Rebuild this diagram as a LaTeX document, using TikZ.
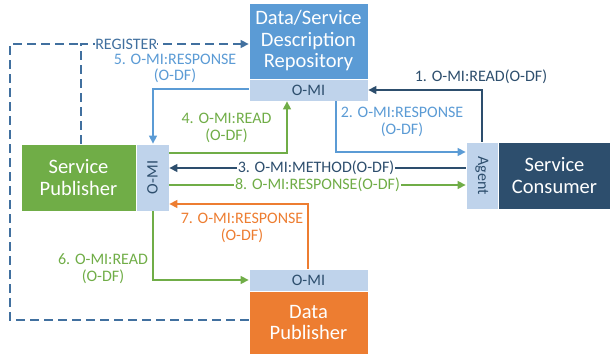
\documentclass[tikz,border=0pt]{standalone}
\usepackage{fontspec}
\setmainfont{Carlito}
\usetikzlibrary{arrows.meta}
\definecolor{repoblue}{HTML}{5B9BD5}
\definecolor{stripblue}{HTML}{BFD3EB}
\definecolor{pubgreen}{HTML}{70AD47}
\definecolor{consdark}{HTML}{2D4E6D}
\definecolor{dporange}{HTML}{ED7D31}
\definecolor{dashblue}{HTML}{41709F}
\tikzset{
  box/.style={draw=white, line width=0.8pt, text=white, align=center, inner sep=0pt,
    font=\fontsize{20.5}{21.5}\selectfont},
  strip/.style={draw=white, line width=0.8pt, fill=stripblue, text=consdark, inner sep=0pt,
    font=\fontsize{16}{17}\selectfont},
  conn/.style={line width=1.4pt, -{Triangle[length=8pt,width=8pt]}},
  dkarrow/.style={conn, draw=consdark},
  lbarrow/.style={conn, draw=repoblue},
  grarrow/.style={conn, draw=pubgreen},
  orarrow/.style={conn, draw=dporange},
  lbl/.style={align=center, inner sep=1pt, font=\fontsize{16}{16.5}\selectfont},
  dashline/.style={draw=dashblue, line width=1.4pt, dash pattern=on 9pt off 5pt},
}
\begin{document}
\begin{tikzpicture}[x=1pt,y=-1pt]
\useasboundingbox (0,0) rectangle (610,355);
% boxes
\node[box, fill=repoblue, minimum width=119pt, minimum height=76pt] (repo) at (308.5,41) {Data/Service\\Description\\Repository};
\node[strip, minimum width=119pt, minimum height=22pt] (repoMI) at (308.5,90) {O-MI};
\node[box, fill=pubgreen, minimum width=115pt, minimum height=67pt] (pub) at (78.5,177.5) {Service\\Publisher};
\node[strip, minimum width=33pt, minimum height=67pt] (pubMI) at (152.5,177.5) {\rotatebox{90}{O-MI}};
\node[strip, minimum width=32pt, minimum height=67pt] (agent) at (482,175.5) {\rotatebox{-90}{Agent}};
\node[box, fill=consdark, minimum width=113pt, minimum height=67pt] (cons) at (554.5,175.5) {Service\\Consumer};
\node[strip, minimum width=119pt, minimum height=22pt] (dpMI) at (308.5,280) {O-MI};
\node[box, fill=dporange, minimum width=119pt, minimum height=63pt] (dp) at (308.5,322.5) {Data\\Publisher};
% register dashed
\coordinate (rj) at (81,44);
\draw[dashline, -{Triangle[length=8pt,width=8pt]}] (pub.north -| rj) -- (rj) -- node[pos=0.27, lbl, fill=white, text=dashblue, inner sep=0pt] {REGISTER} (repo.west |- rj);
\draw[dashline] (dp.west |- 0,320) -| (10,44) -- (rj);
% 1
\draw[dkarrow] (agent.north) |- (repoMI.east);
\node[lbl, text=consdark] (l1) at (481,76.5) {1. O-MI:READ(O-DF)};
% 2
\draw[lbarrow] (repoMI.south -| 336,0) |- (agent.west |- 0,152);
\node[lbl, text=repoblue] (l2) at (402,122) {2. O-MI:RESPONSE\\(O-DF)};
% 3
\draw[dkarrow] (agent.west |- 0,168) -- node[lbl, fill=white, text=consdark, pos=0.505] {3. O-MI:METHOD(O-DF)} (pubMI.east |- 0,168);
% 8
\draw[grarrow] (pubMI.east |- 0,185) -- node[lbl, fill=white, text=pubgreen, pos=0.5] {8. O-MI:RESPONSE(O-DF)} (agent.west |- 0,185);
% 7
\draw[orarrow] (dpMI.north -| 308,0) |- (pubMI.east |- 0,204);
\node[lbl, text=dporange] (l7) at (242,228) {7. O-MI:RESPONSE\\(O-DF)};
% 6
\draw[grarrow] (pubMI.south -| 153,0) |- (dpMI.west);
\node[lbl, text=pubgreen] (l6) at (103,268.5) {6. O-MI:READ\\(O-DF)};
% 4
\draw[grarrow] (pubMI.east |- 0,153) -| (repoMI.south -| 287,0);
\node[lbl, text=pubgreen] (l4) at (226.5,128) {4. O-MI:READ\\(O-DF)};
% 5
\draw[lbarrow] (repoMI.west |- 0,89) -| (pubMI.north -| 153,0);
\node[lbl, text=repoblue] (l5) at (175,68.5) {5. O-MI:RESPONSE\\(O-DF)};
\end{tikzpicture}
\end{document}
